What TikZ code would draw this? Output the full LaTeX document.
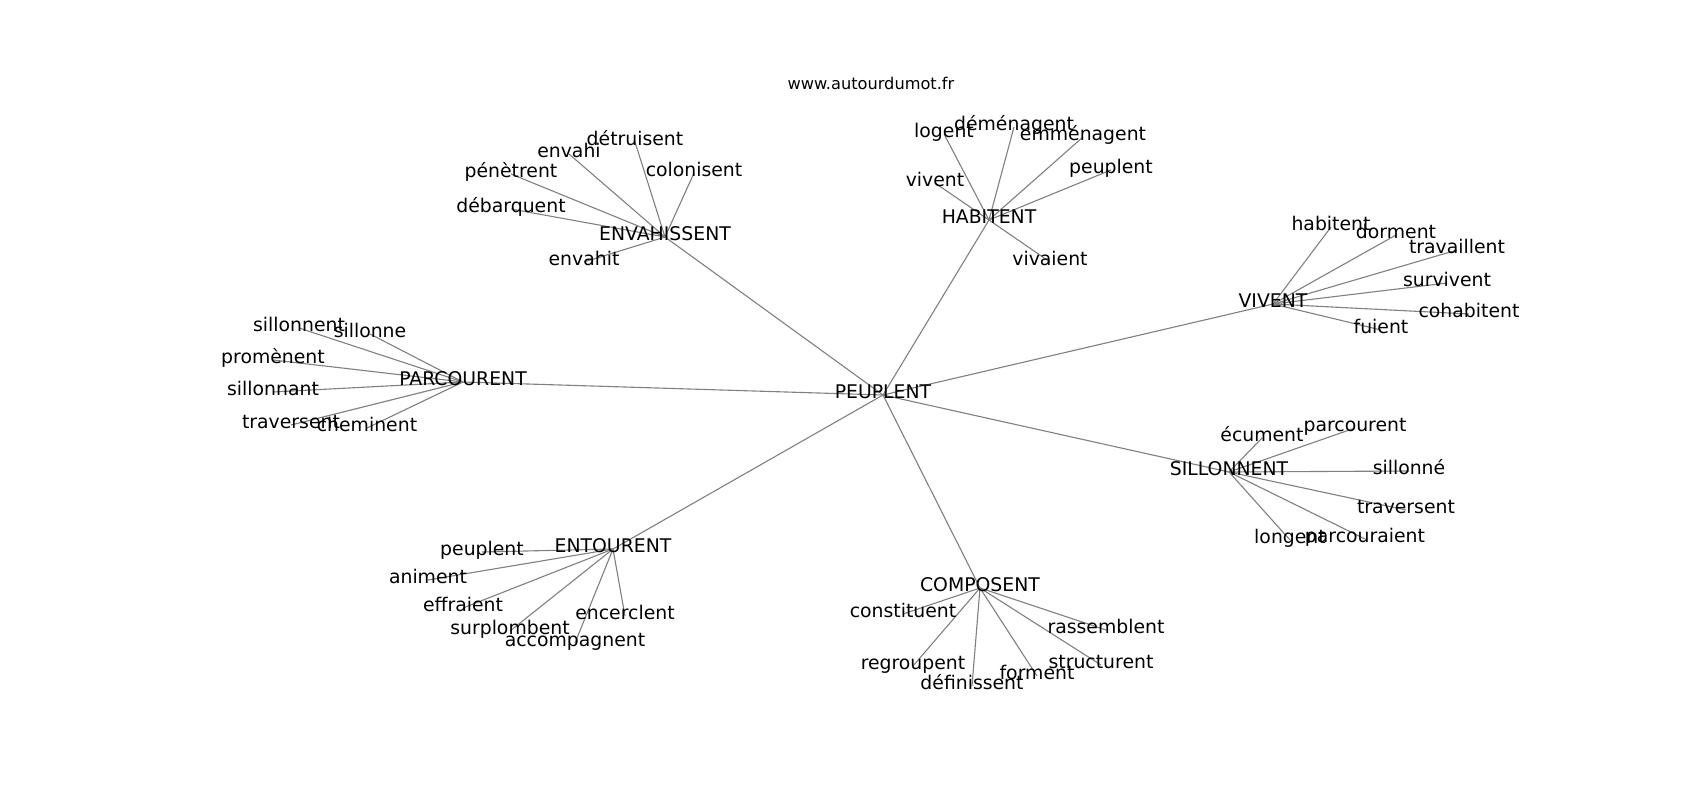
\documentclass[tikz,border=0pt]{standalone}
\usepackage{fontspec}
\setmainfont{DejaVu Sans}
\usetikzlibrary{backgrounds}

\begin{document}
\begin{tikzpicture}[x=0.01in,y=-0.01in,
    word/.style={inner sep=0pt,font=\fontsize{13.6}{16}\selectfont,text height=0.75em,text depth=0.23em},
    link/.style={draw=gray,line width=0.8pt}]
                  \useasboundingbox (0,0) rectangle (1700,800);
                  \node[inner sep=0pt,font=\fontsize{11.7}{14}\selectfont,text height=0.75em,text depth=0.23em] (site) at (871,86) {www.autourdumot.fr};

                  % vertices
                  \node[word] (peuplent) at (883,395) {PEUPLENT};
                  \node[word] (envahissent) at (665,237) {ENVAHISSENT};
                  \node[word] (habitent) at (989,220) {HABITENT};
                  \node[word] (vivent) at (1273,304) {VIVENT};
                  \node[word] (parcourent) at (463,382) {PARCOURENT};
                  \node[word] (sillonnent) at (1229,472) {SILLONNENT};
                  \node[word] (entourent) at (613,549) {ENTOURENT};
                  \node[word] (composent) at (980,588) {COMPOSENT};

                  \node[word] (e1) at (635,142) {détruisent};
                  \node[word] (e2) at (569,154) {envahi};
                  \node[word] (e3) at (694,173) {colonisent};
                  \node[word] (e4) at (511,174) {pénètrent};
                  \node[word] (e5) at (511,209) {débarquent};
                  \node[word] (e6) at (584,262) {envahit};

                  \node[word] (h1) at (944,134) {logent};
                  \node[word] (h2) at (1014,127) {déménagent};
                  \node[word] (h3) at (1083,137) {emménagent};
                  \node[word] (h4) at (1111,170) {peuplent};
                  \node[word] (h5) at (935,183) {vivent};
                  \node[word] (h6) at (1050,262) {vivaient};

                  \node[word] (v1) at (1331,227) {habitent};
                  \node[word] (v2) at (1396,235) {dorment};
                  \node[word] (v3) at (1457,250) {travaillent};
                  \node[word] (v4) at (1447,283) {survivent};
                  \node[word] (v5) at (1469,314) {cohabitent};
                  \node[word] (v6) at (1381,330) {fuient};

                  \node[word] (p1) at (299,328) {sillonnent};
                  \node[word] (p2) at (370,334) {sillonne};
                  \node[word] (p3) at (273,360) {promènent};
                  \node[word] (p4) at (273,392) {sillonnant};
                  \node[word] (p5) at (291,425) {traversent};
                  \node[word] (p6) at (367,428) {cheminent};

                  \node[word] (s1) at (1262,438) {écument};
                  \node[word] (s2) at (1355,428) {parcourent};
                  \node[word] (s3) at (1409,471) {sillonné};
                  \node[word] (s4) at (1406,510) {traversent};
                  \node[word] (s5) at (1290,540) {longent};
                  \node[word] (s6) at (1365,539) {parcouraient};

                  \node[word] (t1) at (482,552) {peuplent};
                  \node[word] (t2) at (428,580) {animent};
                  \node[word] (t3) at (463,608) {effraient};
                  \node[word] (t4) at (510,631) {surplombent};
                  \node[word] (t5) at (625,616) {encerclent};
                  \node[word] (t6) at (575,643) {accompagnent};

                  \node[word] (c1) at (903,614) {constituent};
                  \node[word] (c2) at (1106,630) {rassemblent};
                  \node[word] (c3) at (913,666) {regroupent};
                  \node[word] (c4) at (1101,665) {structurent};
                  \node[word] (c5) at (972,686) {définissent};
                  \node[word] (c6) at (1037,676) {forment};

                  % edges
                  \begin{scope}[on background layer]
                  \foreach \hub in {envahissent,habitent,vivent,parcourent,sillonnent,entourent,composent}
                      \path[link] (peuplent.center) edge (\hub.center);
                  \foreach \leaf in {e1,e2,e3,e4,e5,e6}
                      \path[link] (envahissent.center) edge (\leaf.center);
                  \foreach \leaf in {h1,h2,h3,h4,h5,h6}
                      \path[link] (habitent.center) edge (\leaf.center);
                  \foreach \leaf in {v1,v2,v3,v4,v5,v6}
                      \path[link] (vivent.center) edge (\leaf.center);
                  \foreach \leaf in {p1,p2,p3,p4,p5,p6}
                      \path[link] (parcourent.center) edge (\leaf.center);
                  \foreach \leaf in {s1,s2,s3,s4,s5,s6}
                      \path[link] (sillonnent.center) edge (\leaf.center);
                  \foreach \leaf in {t1,t2,t3,t4,t5,t6}
                      \path[link] (entourent.center) edge (\leaf.center);
                  \foreach \leaf in {c1,c2,c3,c4,c5,c6}
                      \path[link] (composent.center) edge (\leaf.center);
                  \end{scope}
              \end{tikzpicture}
\end{document}
